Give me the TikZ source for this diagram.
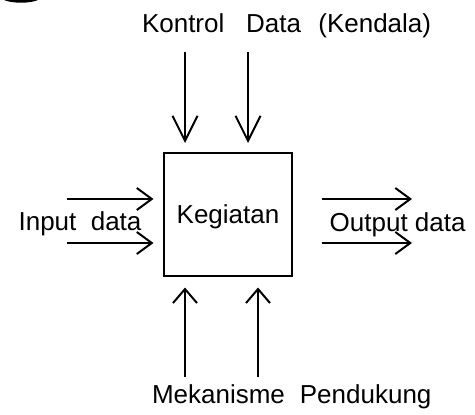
\documentclass[tikz,border=0pt]{standalone}
\usepackage{fontspec}
\setmainfont{Liberation Sans}
\usetikzlibrary{arrows.meta}

\begin{document}
\begin{tikzpicture}[x=1pt,y=-1pt,line width=2pt,
    lbl/.style={inner sep=0pt,anchor=base west,font=\fontsize{26}{31}\selectfont},
    dn/.style={-{Straight Barb[length=25pt,width=25pt]}},
    upar/.style={-{Straight Barb[length=14pt,width=24pt]}},
    side/.style={-{Straight Barb[length=15pt,width=22pt]}}]
  \useasboundingbox (0,0) rectangle (475,415);
  \fill (4,0) .. controls (12,3.6) and (30,3.6) .. (38,0) -- cycle;
  \node[draw,minimum width=128pt,minimum height=123pt,inner sep=0pt,text depth=0pt,
        font=\fontsize{26}{31}\selectfont] (kegiatan) at (228,214.5) {Kegiatan};
  % free ends of the arrows
  \coordinate (k1) at (185,52);  \coordinate (k2) at (248,52);
  \coordinate (m1) at (185,377); \coordinate (m2) at (258,377);
  \coordinate (i1) at (67,199);  \coordinate (i2) at (67,243);
  \coordinate (o1) at (412,199); \coordinate (o2) at (412,243);
  \foreach \c in {k1,k2} \draw[dn,shorten >=9pt] (\c) -- (\c |- kegiatan.north);
  \foreach \c in {m1,m2} \draw[upar,shorten >=10.5pt] (\c) -- (\c |- kegiatan.south);
  \foreach \c in {i1,i2} \draw[side,shorten >=9.5pt] (\c) -- (\c -| kegiatan.west);
  \foreach \c in {o1,o2} \draw[side,shorten <=29pt] (\c -| kegiatan.east) -- (\c);
  \node[lbl] (kontrol) at (141,32) {Kontrol\hspace{21.7pt}Data\hspace{17.4pt}(Kendala)};
  \node[lbl] (input) at (17.6,230) {Input\hspace{14.4pt}data};
  \node[lbl] (output) at (328.7,231) {Output data};
  \node[lbl] (mekanisme) at (151,403.3) {Mekanisme\hspace{15pt}Pendukung};
\end{tikzpicture}
\end{document}
